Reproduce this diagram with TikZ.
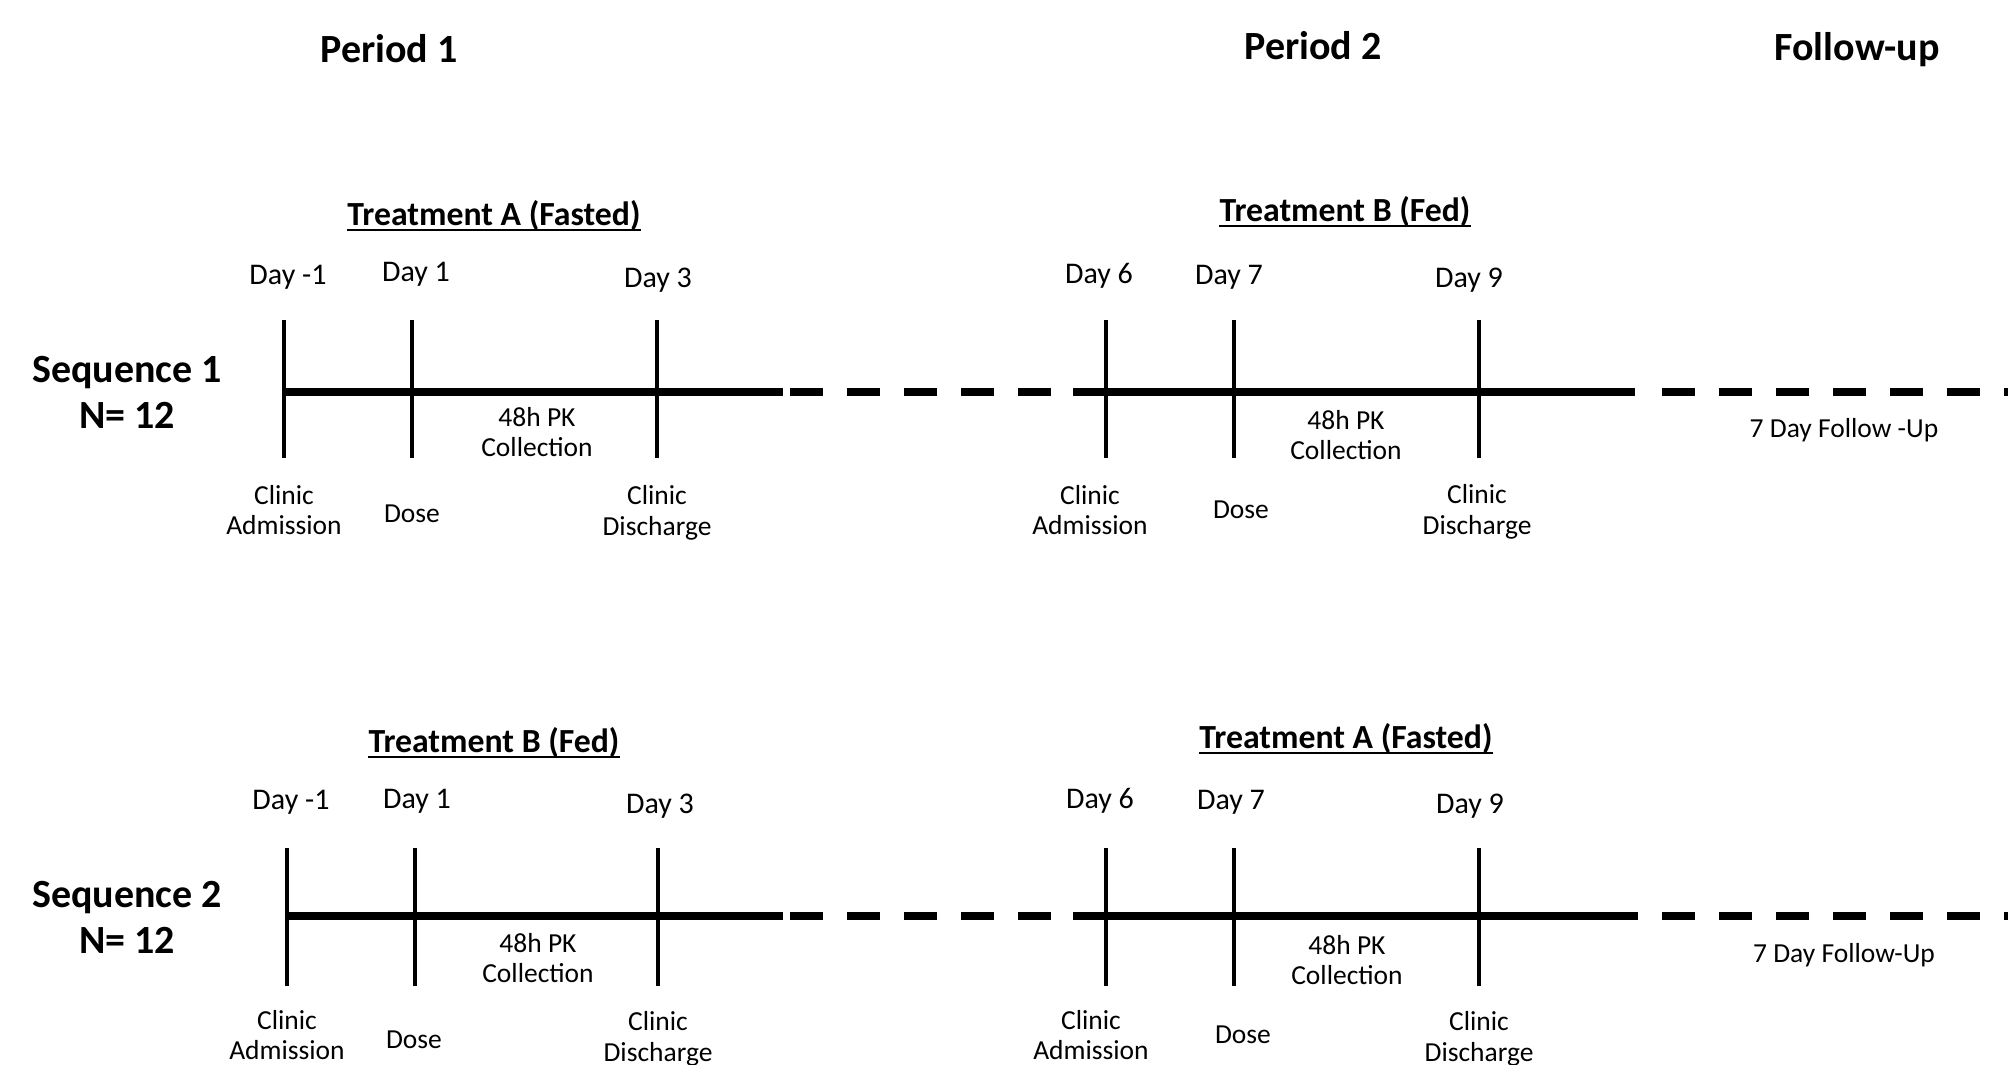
\documentclass[tikz,border=0pt]{standalone}
\usepackage{fontspec}
\setmainfont{Carlito}
\begin{document}
\begin{tikzpicture}[x=0.4pt,y=-0.4pt,
  lab/.style={font=\fontsize{11}{12.3}\selectfont, align=center, inner sep=0pt},
  daylab/.style={font=\fontsize{12}{14}\selectfont, inner sep=0pt},
  ttl/.style={font=\fontsize{13.5}{16}\selectfont\bfseries, inner sep=0pt},
  uline/.style={line width=0.9pt},
  big/.style={font=\fontsize{16}{18.4}\selectfont\bfseries, align=center, inner sep=0pt},
  tline/.style={line width=2.9pt},
  dline/.style={line width=2.9pt, dash pattern=on 13.2pt off 9.6pt},
  tickline/.style={line width=1.6pt}]
\useasboundingbox (0,0) rectangle (2008,1065);
\clip (0,0) rectangle (2008,1065);

% headers
\node[big] (p1) at (389,49) {Period 1};
\node[big] (p2) at (1313,46) {Period 2};
\node[big] (fu) at (1857,50) {Follow-up};

% ===== Row 1 =====
\node[big] (s1) at (127,392) {Sequence 1\\N= 12};
\node[ttl] (ta1) at (494,216) {Treatment A (Fasted)};
\node[ttl] (tb1) at (1345,212) {Treatment B (Fed)};

\node[daylab] (d1a) at (288,277) {Day -1};
\node[daylab] (d1b) at (416,274) {Day 1};
\node[daylab] (d1c) at (658,280) {Day 3};
\node[daylab] (d1d) at (1099,276) {Day 6};
\node[daylab] (d1e) at (1229,277) {Day 7};
\node[daylab] (d1f) at (1469,280) {Day 9};

\node[lab] (pk1a) at (537,432) {48h PK\\Collection};
\node[lab] (pk1b) at (1346,435) {48h PK\\Collection};
\node[lab] (ca1a) at (284,510) {Clinic\\Admission};
\node[lab] (do1a) at (412,514) {Dose};
\node[lab] (cd1a) at (657,513) {Clinic\\Discharge};
\node[lab] (ca1b) at (1090,510) {Clinic\\Admission};
\node[lab] (do1b) at (1241,510) {Dose};
\node[lab] (cd1b) at (1477,512) {Clinic\\Discharge};
\node[lab] (fu1) at (1844,430) {7 Day Follow -Up};

\coordinate (r1s) at (284,392);
\coordinate (r1a) at (783,392);
\coordinate (r1b) at (790,392);
\coordinate (r1c) at (1073,392);
\coordinate (r1d) at (1635,392);
\coordinate (r1e) at (1662,392);
\coordinate (r1f) at (2040,392);
\draw[tline] (r1s) -- (r1a);
\draw[dline] (r1b) -- (r1c);
\draw[tline] (r1c) -- (r1d);
\draw[dline] (r1e) -- (r1f);

\foreach \n/\x in {a/284,b/412,c/657,d/1106,e/1234,f/1479}{
  \coordinate (k1\n t) at (\x,320);
  \coordinate (k1\n b) at (\x,458);
  \draw[tickline] (k1\n t) -- (k1\n b);
}

% ===== Row 2 =====
\node[big] (s2) at (127,917) {Sequence 2\\N= 12};
\node[ttl] (tb2) at (494,743) {Treatment B (Fed)};
\node[ttl] (ta2) at (1346,739) {Treatment A (Fasted)};

\node[daylab] (d2a) at (291,802) {Day -1};
\node[daylab] (d2b) at (417,801) {Day 1};
\node[daylab] (d2c) at (660,806) {Day 3};
\node[daylab] (d2d) at (1100,801) {Day 6};
\node[daylab] (d2e) at (1231,802) {Day 7};
\node[daylab] (d2f) at (1470,806) {Day 9};

\node[lab] (pk2a) at (538,958) {48h PK\\Collection};
\node[lab] (pk2b) at (1347,960) {48h PK\\Collection};
\node[lab] (ca2a) at (287,1035) {Clinic\\Admission};
\node[lab] (do2a) at (414,1040) {Dose};
\node[lab] (cd2a) at (658,1039) {Clinic\\Discharge};
\node[lab] (ca2b) at (1091,1035) {Clinic\\Admission};
\node[lab] (do2b) at (1243,1035) {Dose};
\node[lab] (cd2b) at (1479,1039) {Clinic\\Discharge};
\node[lab] (fu2) at (1844,955) {7 Day Follow-Up};

% underlines of the treatment titles
\foreach \t in {ta1,tb1,tb2,ta2}{
  \draw[uline] ([yshift=-1.6pt]\t.base west) -- ([yshift=-1.6pt]\t.base east);
}

\coordinate (r2s) at (287,916);
\coordinate (r2a) at (783,916);
\coordinate (r2b) at (790,916);
\coordinate (r2c) at (1073,916);
\coordinate (r2d) at (1605,916);
\coordinate (r2f) at (2040,916);
\draw[tline] (r2s) -- (r2a);
\draw[dline] (r2b) -- (r2c);
\draw[tline] (r2c) -- (r2d);
\draw[dline] (r2d) -- (r2f);

\foreach \n/\x in {a/287,b/415,c/658,d/1106,e/1234,f/1479}{
  \coordinate (k2\n t) at (\x,848);
  \coordinate (k2\n b) at (\x,986);
  \draw[tickline] (k2\n t) -- (k2\n b);
}
\end{tikzpicture}
\end{document}
